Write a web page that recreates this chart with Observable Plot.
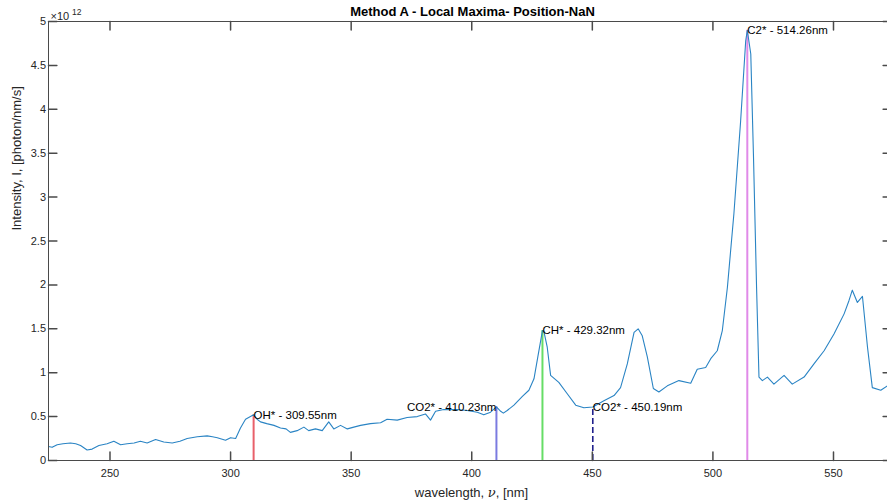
<!DOCTYPE html>
<html>
<head>
<meta charset="utf-8">
<script src="https://cdn.jsdelivr.net/npm/d3@7"></script>
<script src="https://cdn.jsdelivr.net/npm/@observablehq/plot@0.6"></script>
<style>
  html, body { margin: 0; padding: 0; overflow: hidden; background: #fff; }
  #chart { width: 887px; height: 504px; overflow: hidden; }
  #chart svg { max-width: none !important; }
</style>
</head>
<body>
<div id="chart"></div>
<script>
// ---- data (intensity in units of 10^12 photon/nm/s) ----
const wavelength = [
  224.5, 226.0, 228.1, 230.5, 233.6, 235.8, 237.8, 240.5, 242.6, 245.4,
  248.8, 251.6, 254.4, 257.1, 260.0, 262.6, 265.4, 268.9, 272.3, 275.8,
  279.0, 282.0, 286.2, 290.3, 292.5, 294.5, 297.9, 300.0, 302.1, 304.1,
  306.2, 309.55, 311.0, 312.4, 315.0, 318.0, 320.7, 323.0, 324.8, 327.6,
  330.4, 332.4, 335.2, 338.0, 340.7, 342.8, 345.6, 348.4, 351.1, 353.9,
  358.0, 362.2, 364.9, 369.1, 373.2, 377.4, 380.8, 382.9, 385.0, 388.4,
  394.0, 398.1, 402.3, 405.0, 407.8, 410.23, 412.0, 413.1, 414.7, 417.5,
  421.0, 423.7, 425.8, 427.4, 429.32, 429.9, 431.3, 432.7, 436.1, 439.6,
  443.1, 446.5, 450.19, 454.8, 459.0, 461.7, 464.5, 467.3, 469.0, 470.7,
  472.8, 475.3, 477.6, 481.1, 485.9, 490.8, 493.5, 497.0, 499.1, 501.8,
  503.9, 506.0, 508.7, 511.5, 513.6, 514.26, 515.7, 516.8, 518.1, 519.1,
  520.5, 522.6, 525.3, 529.5, 532.9, 537.8, 541.9, 546.1, 550.2, 554.4,
  556.4, 557.8, 559.9, 562.0, 564.1, 566.1, 569.6, 572.4, 574.0
];
const intensity = [
  0.16, 0.15, 0.18, 0.19, 0.20, 0.19, 0.17, 0.12, 0.13, 0.17,
  0.19, 0.22, 0.18, 0.19, 0.20, 0.22, 0.20, 0.24, 0.21, 0.20,
  0.22, 0.25, 0.27, 0.28, 0.27, 0.26, 0.23, 0.26, 0.25, 0.37,
  0.47, 0.52, 0.47, 0.44, 0.42, 0.40, 0.37, 0.36, 0.32, 0.34,
  0.38, 0.34, 0.36, 0.34, 0.44, 0.36, 0.40, 0.36, 0.38, 0.40,
  0.42, 0.43, 0.47, 0.46, 0.49, 0.50, 0.53, 0.46, 0.56, 0.58,
  0.58, 0.57, 0.55, 0.52, 0.55, 0.61, 0.56, 0.54, 0.57, 0.63,
  0.73, 0.80, 0.93, 1.18, 1.48, 1.47, 1.29, 0.97, 0.89, 0.76,
  0.63, 0.60, 0.61, 0.68, 0.74, 0.83, 1.10, 1.46, 1.50, 1.42,
  1.18, 0.82, 0.78, 0.85, 0.91, 0.88, 1.04, 1.06, 1.16, 1.25,
  1.48, 1.97, 2.81, 3.87, 4.78, 4.90, 4.63, 3.49, 1.97, 0.95,
  0.91, 0.95, 0.87, 0.97, 0.87, 0.95, 1.10, 1.25, 1.44, 1.67,
  1.82, 1.94, 1.80, 1.87, 1.29, 0.83, 0.80, 0.85, 0.88
];

const peakNames       = ["OH*", "CO2*", "CH*", "CO2*", "C2*"];
const peakWavelengths = [309.55, 410.23, 429.32, 450.19, 514.26];
const peakIntensities = [0.52, 0.61, 1.48, 0.61, 4.90];
const peakColors      = ["#e8606a", "#7b7be0", "#66dd66", "#20208c", "#e08ae8"];
const peakDashed      = [false, false, false, true, false];
const peakLabelSide   = ["start", "end", "start", "start", "start"];

const xTicks = [250, 300, 350, 400, 450, 500, 550];
const yTicks = [0, 0.5, 1, 1.5, 2, 2.5, 3, 3.5, 4, 4.5, 5];
const yTickLabels = ["0", "0.5", "1", "1.5", "2", "2.5", "3", "3.5", "4", "4.5", "5"];
const xDomain = [224.5, 574.05];
const yDomain = [0, 5];

const titleText = "Method A - Local Maxima- Position-NaN";
const xLabel = "wavelength, ν, [nm]";
const yLabel = "Intensity, I, [photon/nm/s]";
const expBase = "×10";
const expPower = "12";

// ---- build tables ----
const spectrum = wavelength.map((w, i) => ({w, v: intensity[i]}));
const peaks = peakNames.map((n, i) => ({
  name: n, w: peakWavelengths[i], v: peakIntensities[i],
  color: peakColors[i], dashed: peakDashed[i], side: peakLabelSide[i],
  label: `${n} - ${peakWavelengths[i].toFixed(2)}nm`
}));

const axisColor = "#4a4a4a";
const textColor = "#262626";
const tickShape = { draw(ctx, l) { ctx.moveTo(0, 0); ctx.lineTo(0, -l); } };
const TL = 8.4;

const svg = Plot.plot({
  width: 893,
  height: 504,
  marginLeft: 48,
  marginRight: 2,
  marginTop: 21,
  marginBottom: 44,
  style: { fontFamily: "'Liberation Sans', Arial, Helvetica, sans-serif", fontSize: "11px", color: textColor, background: "#fff", maxWidth: "none" },
  x: { domain: xDomain, label: null },
  y: { domain: yDomain, label: null },
  marks: [
    // peak marker lines
    Plot.ruleX(peaks.filter(d => !d.dashed), { x: "w", y1: 0, y2: "v", stroke: "color", strokeWidth: 2 }),
    Plot.ruleX(peaks.filter(d => d.dashed), { x: "w", y1: 0, y2: "v", stroke: "color", strokeWidth: 1.6, strokeDasharray: "6,3" }),
    // spectrum
    Plot.line(spectrum, { x: "w", y: "v", stroke: "#2a84c4", strokeWidth: 1.1, clip: true }),
    // peak labels
    Plot.text(peaks.filter(d => d.side === "start"), { x: "w", y: "v", text: "label", textAnchor: "start", lineAnchor: "middle", fontSize: 11.5, fill: "#000" }),
    Plot.text(peaks.filter(d => d.side === "end"), { x: "w", y: "v", text: "label", textAnchor: "end", lineAnchor: "middle", fontSize: 11.5, fill: "#000" }),
    // box
    Plot.frame({ stroke: axisColor, strokeWidth: 1 }),
    // inward ticks
    Plot.vector(xTicks, { x: d => d, y: yDomain[0], length: TL, rotate: 0, anchor: "start", shape: tickShape, stroke: axisColor }),
    Plot.vector(xTicks, { x: d => d, y: yDomain[1], length: TL, rotate: 180, anchor: "start", shape: tickShape, stroke: axisColor }),
    Plot.vector(yTicks, { y: d => d, x: xDomain[0], length: TL, rotate: 90, anchor: "start", shape: tickShape, stroke: axisColor }),
    Plot.vector(yTicks, { y: d => d, x: xDomain[1], length: TL, rotate: -90, anchor: "start", shape: tickShape, stroke: axisColor }),
    // tick labels
    Plot.axisX({ ticks: xTicks, tickSize: 0, tickPadding: 8.5, tickFormat: d => String(d), label: null, fill: textColor, fontSize: 11 }),
    Plot.axisY({ ticks: yTicks, tickSize: 0, tickPadding: 2.5, tickFormat: d => yTickLabels[yTicks.indexOf(d)], label: null, fill: textColor, fontSize: 11 }),
    // exponent
    Plot.text([expBase], { frameAnchor: "top-left", dx: 2, dy: -5, textAnchor: "start", lineAnchor: "middle", fontSize: 11, fill: textColor }),
    Plot.text([expPower], { frameAnchor: "top-left", dx: 23.5, dy: -9.5, textAnchor: "start", lineAnchor: "middle", fontSize: 8.5, fill: textColor }),
    // title and axis labels
    Plot.text([titleText], { frameAnchor: "top", dy: -9.5, dx: 2.5, lineAnchor: "middle", fontSize: 13, fontWeight: "bold", fill: "#000" }),
    Plot.text([xLabel], { frameAnchor: "bottom", dy: 32, dx: 1.5, lineAnchor: "middle", fontSize: 13, fill: textColor }),
    Plot.text([yLabel], { frameAnchor: "left", dx: -31.3, dy: -10.5, rotate: -90, lineAnchor: "middle", fontSize: 13, fill: textColor })
  ]
});

// italic nu in x label
d3.select(svg).selectAll("text").filter(function () { return this.textContent === xLabel; }).each(function () {
  const t = d3.select(this);
  const parts = xLabel.split("ν");
  t.text(null);
  t.append("tspan").text(parts[0]);
  t.append("tspan").attr("font-style", "italic").attr("font-family", "'DejaVu Serif', serif").text("ν");
  t.append("tspan").text(parts[1]);
});

svg.style.maxWidth = "none";
document.getElementById("chart").appendChild(svg);
</script>
</body>
</html>
